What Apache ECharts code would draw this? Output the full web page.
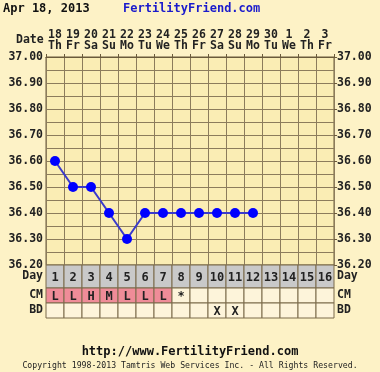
<!DOCTYPE html>
<html><head><meta charset="utf-8">
<script src="https://cdn.jsdelivr.net/npm/echarts@6/dist/echarts.min.js"></script>
<style>html,body{margin:0;padding:0;background:#FDF2C6;}#c{width:380px;height:372px;}</style>
</head><body><div id="c"></div>
<script>
const dates = ['18','19','20','21','22','23','24','25','26','27','28','29','30','1','2','3'];
const weekdays = ['Th','Fr','Sa','Su','Mo','Tu','We','Th','Fr','Sa','Su','Mo','Tu','We','Th','Fr'];
const temps = [36.60,36.50,36.50,36.40,36.30,36.40,36.40,36.40,36.40,36.40,36.40,36.40];
const cycleDays = ['1','2','3','4','5','6','7','8','9','10','11','12','13','14','15','16'];
const cm = ['L','L','H','M','L','L','L','*','','','','','','','',''];
const bd = ['','','','','','','','','','X','X','','','','',''];
const tempMin = 36.2, tempMax = 37.0;

const FONT = 'DejaVu Sans Mono';
const GRID = '#8C7C5C';
const PINK = '#EF8C98';
const EMPTY = '#FDF4DA';
const GRAY = '#C9C9C9';

const cats = dates.map((d,i)=>d+'\n'+weekdays[i]);
const dayData = cycleDays.map((d,i)=>[i,0,d,GRAY]);
const cmbdData = [];
cm.forEach((v,i)=>cmbdData.push([i,0,v,v && v!=='*'?PINK:EMPTY]));
bd.forEach((v,i)=>cmbdData.push([i,1,v,EMPTY]));

function cellRender(params, api){
  const c = api.coord([api.value(0), api.value(1)]);
  const s = api.size([1,1]);
  return {type:'group', children:[
    {type:'rect', shape:{x:c[0]-s[0]/2, y:c[1]-s[1]/2, width:s[0], height:s[1]},
     style:{fill:api.value(3), stroke:'#7A6A4A', lineWidth:1}},
    {type:'text', style:{text:api.value(2), x:c[0], y:c[1]+1, align:'center', verticalAlign:'middle',
      font:'bold 12px "'+FONT+'"', fill:'#222'}}
  ]};
}

const labelStyle = {fontFamily:FONT, fontWeight:'bold', fontSize:11.5, color:'#222'};
const chart = echarts.init(document.getElementById('c'));
chart.setOption({
  backgroundColor:'#FDF2C6',
  animation:false,
  grid:[
    {left:46, right:46, top:57, height:208, show:true, backgroundColor:'#FAEDB4', borderColor:'#6A5A3A', borderWidth:1},
    {left:46, right:46, top:265, height:23},
    {left:46, right:46, top:288, height:30}
  ],
  xAxis:[
    {gridIndex:0, type:'category', data:cats, position:'top', boundaryGap:true,
     axisLine:{show:true, lineStyle:{color:'#6A5A3A'}},
     axisTick:{show:true, length:3, lineStyle:{color:'#6A5A3A'}},
     axisLabel:{...labelStyle, fontSize:11.5, lineHeight:11, margin:5, interval:0},
     splitLine:{show:true, lineStyle:{color:GRID, width:1}}},
    {gridIndex:1, type:'category', data:cycleDays, show:false},
    {gridIndex:2, type:'category', data:cycleDays, show:false}
  ],
  yAxis:[
    {gridIndex:0, type:'value', min:tempMin, max:tempMax, interval:0.1, position:'left',
     axisLine:{show:false}, axisTick:{show:false},
     axisLabel:{...labelStyle, margin:3, formatter:v=>v.toFixed(2)},
     splitLine:{show:true, lineStyle:{color:GRID}},
     minorTick:{show:false, splitNumber:2},
     minorSplitLine:{show:true, lineStyle:{color:GRID}}},
    {gridIndex:0, type:'value', min:tempMin, max:tempMax, interval:0.1, position:'right',
     axisLine:{show:false}, axisTick:{show:true, length:3, lineStyle:{color:'#6A5A3A'}},
     axisLabel:{...labelStyle, margin:3, formatter:v=>v.toFixed(2)},
     splitLine:{show:false}},
    {gridIndex:1, type:'category', data:['Day'], position:'left', axisLine:{show:false}, axisTick:{show:false},
     axisLabel:{...labelStyle, margin:3, interval:0}},
    {gridIndex:1, type:'category', data:['Day'], position:'right', axisLine:{show:false}, axisTick:{show:false},
     axisLabel:{...labelStyle, margin:3, interval:0}},
    {gridIndex:2, type:'category', data:['CM','BD'], inverse:true, position:'left', axisLine:{show:false}, axisTick:{show:false},
     axisLabel:{...labelStyle, margin:3, interval:0}},
    {gridIndex:2, type:'category', data:['CM','BD'], inverse:true, position:'right', axisLine:{show:false}, axisTick:{show:false},
     axisLabel:{...labelStyle, margin:3, interval:0}}
  ],
  series:[
    {type:'line', xAxisIndex:0, yAxisIndex:0, data:temps, symbol:'circle', symbolSize:10,
     lineStyle:{color:'#3A3ACC', width:2}, itemStyle:{color:'#0000FF'}},
    {type:'custom', xAxisIndex:1, yAxisIndex:2, data:dayData, renderItem:cellRender},
    {type:'custom', xAxisIndex:2, yAxisIndex:4, data:cmbdData, renderItem:cellRender}
  ],
  graphic:[
    {type:'text', left:3, top:3, style:{text:'Apr 18, 2013', font:'bold 12px "'+FONT+'"', fill:'#111'}},
    {type:'text', left:123, top:3, style:{text:'FertilityFriend.com', font:'bold 12px "'+FONT+'"', fill:'#1A1ACC'}},
    {type:'text', left:16, top:34, style:{text:'Date', font:'bold 11.5px "'+FONT+'"', fill:'#222'}},
    {type:'text', left:'center', top:346, style:{text:'http://www.FertilityFriend.com', font:'bold 12px "'+FONT+'"', fill:'#111'}},
    {type:'text', left:'center', top:362, style:{text:'Copyright 1998-2013 Tamtris Web Services Inc. - All Rights Reserved.', font:'8.2px "'+FONT+'"', fill:'#222'}}
  ]
});
</script></body></html>
